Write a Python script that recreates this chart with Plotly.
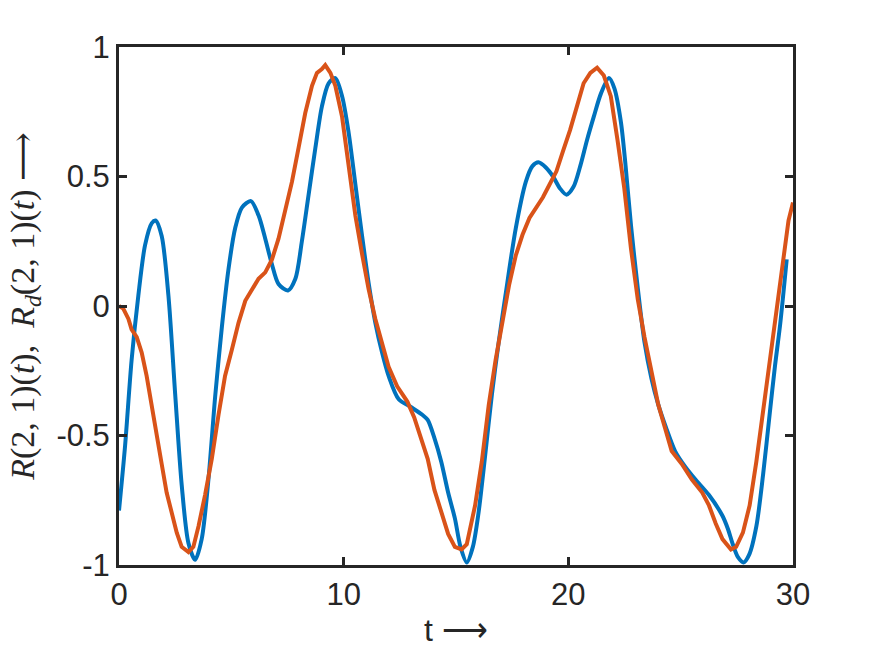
import plotly.graph_objects as go

# Blue series: R(2,1)(t)
t_r = [0, 0.27, 0.56, 0.86, 1.16, 1.46, 1.63, 1.9, 2.2, 2.5, 2.79, 3.09, 3.39, 3.68,
       3.98, 4.28, 4.58, 4.87, 5.17, 5.47, 5.87, 6.21, 6.51, 6.81, 7.1, 7.52, 7.85,
       8.14, 8.44, 8.74, 9.03, 9.33, 9.63, 9.93, 10.22, 10.52, 10.82, 11.11, 11.41,
       11.71, 12.0, 12.45, 12.99, 13.5, 13.74, 14.04, 14.34, 14.65, 14.95, 15.2,
       15.48, 15.75, 16.0, 16.3, 16.6, 16.9, 17.2, 17.66, 18.11, 18.4, 18.67, 19.0,
       19.32, 19.62, 19.92, 20.23, 20.53, 20.83, 21.13, 21.45, 21.81, 22.05, 22.34,
       22.55, 22.79, 23.09, 23.39, 23.7, 24.0, 24.35, 24.75, 25.2, 25.66, 26.26,
       26.86, 27.1, 27.32, 27.55, 27.8, 28.05, 28.37, 28.67, 28.97, 29.2, 29.43, 29.72]
r_val = [-0.79, -0.54, -0.21, 0.04, 0.235, 0.32, 0.33, 0.27, 0.04, -0.34, -0.69, -0.915,
         -0.98, -0.90, -0.67, -0.35, -0.08, 0.14, 0.30, 0.38, 0.405, 0.35, 0.26, 0.16,
         0.085, 0.06, 0.105, 0.25, 0.43, 0.61, 0.77, 0.86, 0.88, 0.81, 0.67, 0.47, 0.27,
         0.09, -0.065, -0.18, -0.27, -0.36, -0.39, -0.42, -0.44, -0.51, -0.60, -0.72,
         -0.82, -0.93, -0.99, -0.93, -0.80, -0.575, -0.34, -0.14, 0.04, 0.30, 0.48,
         0.54, 0.555, 0.535, 0.50, 0.455, 0.43, 0.46, 0.54, 0.64, 0.73, 0.82, 0.88,
         0.84, 0.71, 0.54, 0.31, 0.07, -0.14, -0.28, -0.38, -0.47, -0.56, -0.62, -0.67,
         -0.73, -0.81, -0.86, -0.92, -0.97, -0.99, -0.96, -0.85, -0.65, -0.41, -0.23,
         -0.07, 0.18]

# Orange series: R_d(2,1)(t)
t_rd = [0, 0.19, 0.42, 0.56, 0.79, 1.01, 1.23, 1.46, 1.68, 1.9, 2.12, 2.35, 2.57, 2.79,
        3.09, 3.31, 3.54, 3.83, 4.13, 4.43, 4.72, 5.02, 5.32, 5.62, 5.91, 6.21, 6.51,
        6.81, 7.1, 7.4, 7.7, 7.99, 8.29, 8.59, 8.81, 9.03, 9.18, 9.41, 9.63, 9.93,
        10.22, 10.52, 10.82, 11.11, 11.41, 11.71, 12.0, 12.38, 12.84, 13.14, 13.44,
        13.74, 14.04, 14.34, 14.65, 14.95, 15.25, 15.48, 15.85, 16.15, 16.46, 16.76,
        17.06, 17.36, 17.66, 17.96, 18.27, 18.57, 18.87, 19.17, 19.47, 19.77, 20.08,
        20.38, 20.68, 20.98, 21.28, 21.58, 21.89, 22.19, 22.49, 22.79, 23.09, 23.39,
        23.7, 24.0, 24.3, 24.6, 25.05, 25.5, 25.96, 26.26, 26.56, 26.86, 27.24, 27.47,
        27.77, 28.07, 28.37, 28.67, 28.97, 29.28, 29.58, 29.8, 30.0]
rd_val = [0, -0.01, -0.05, -0.09, -0.12, -0.18, -0.27, -0.38, -0.50, -0.61, -0.72, -0.80,
          -0.875, -0.93, -0.95, -0.93, -0.85, -0.73, -0.59, -0.42, -0.27, -0.17, -0.065,
          0.02, 0.065, 0.105, 0.13, 0.18, 0.26, 0.37, 0.48, 0.61, 0.745, 0.85, 0.90,
          0.915, 0.93, 0.90, 0.85, 0.73, 0.54, 0.35, 0.20, 0.065, -0.05, -0.14, -0.235,
          -0.31, -0.37, -0.43, -0.51, -0.59, -0.71, -0.80, -0.88, -0.93, -0.94, -0.92,
          -0.77, -0.60, -0.38, -0.21, -0.065, 0.08, 0.195, 0.275, 0.34, 0.38, 0.42,
          0.47, 0.52, 0.60, 0.68, 0.77, 0.86, 0.90, 0.92, 0.89, 0.81, 0.64, 0.455, 0.22,
          0.026, -0.12, -0.25, -0.38, -0.47, -0.56, -0.61, -0.67, -0.72, -0.77, -0.84,
          -0.90, -0.94, -0.93, -0.875, -0.77, -0.60, -0.405, -0.21, -0.013, 0.18, 0.33,
          0.40]

x_ticks = [0, 10, 20, 30]
x_tick_labels = ["0", "10", "20", "30"]
y_ticks = [-1, -0.5, 0, 0.5, 1]
y_tick_labels = ["-1", "-0.5", "0", "0.5", "1"]

fig = go.Figure()
fig.add_trace(go.Scatter(x=t_r, y=r_val, mode="lines",
                         line=dict(color="#0072BD", width=4, shape="spline", smoothing=0.8),
                         showlegend=False))
fig.add_trace(go.Scatter(x=t_rd, y=rd_val, mode="lines",
                         line=dict(color="#D95319", width=4),
                         showlegend=False))

axis_common = dict(showline=True, mirror="allticks", linecolor="#262626", linewidth=3,
                   ticks="inside", ticklen=8, tickwidth=3, tickcolor="#262626",
                   showgrid=False, zeroline=False,
                   tickfont=dict(family="Liberation Sans, Arial", size=31, color="#262626"))

fig.update_layout(
    width=875, height=657,
    margin=dict(l=119, r=82, t=47, b=92),
    plot_bgcolor="white", paper_bgcolor="white",
    xaxis=dict(range=[0, 30], tickvals=x_ticks, ticktext=x_tick_labels,
               title=dict(text="t ⟶", standoff=8,
                          font=dict(family="Liberation Sans, Arial", size=32, color="#262626")),
               **axis_common),
    yaxis=dict(range=[-1, 1], tickvals=y_ticks, ticktext=y_tick_labels,
               title=dict(text="<i>R</i>(2, 1)(<i>t</i>),  <i>R<sub>d</sub></i>(2, 1)(<i>t</i>) ⟶",
                          standoff=12,
                          font=dict(family="Liberation Serif, DejaVu Serif", size=34, color="#262626")),
               **axis_common),
)

fig.write_html("out.html")
